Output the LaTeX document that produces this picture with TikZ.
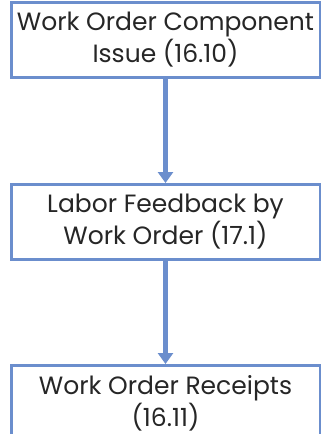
\documentclass[tikz,border=0pt]{standalone}
\usepackage{fontspec}
\setmainfont{Poppins}
\usetikzlibrary{positioning,arrows.meta}
\definecolor{boxblue}{RGB}{107,142,205}
\definecolor{textgray}{RGB}{38,38,38}

\begin{document}
\begin{tikzpicture}[x=1pt,y=-1pt,
	stepbox/.style={draw=boxblue, line width=3pt, fill=white, text=textgray, minimum width=309pt, minimum height=75pt, align=center, font=\fontsize{25}{32}\selectfont, inner sep=0pt},
	flow/.style={draw=boxblue, line width=4.5pt, -{Triangle[width=15pt,length=11pt]}}]
\useasboundingbox (0,0) rectangle (321,434);
\node[stepbox] (issue) at (165.5, 40) {Work Order Component\\Issue (16.10)};
\node[stepbox, below=104pt of issue] (labor) {Labor Feedback by\\Work Order (17.1)};
\node[stepbox, below=103pt of labor] (receipts) {Work Order Receipts\\(16.11)};
	\draw[flow] (issue) -- (labor);
	\draw[flow] (labor) -- (receipts);
\end{tikzpicture}
\end{document}
